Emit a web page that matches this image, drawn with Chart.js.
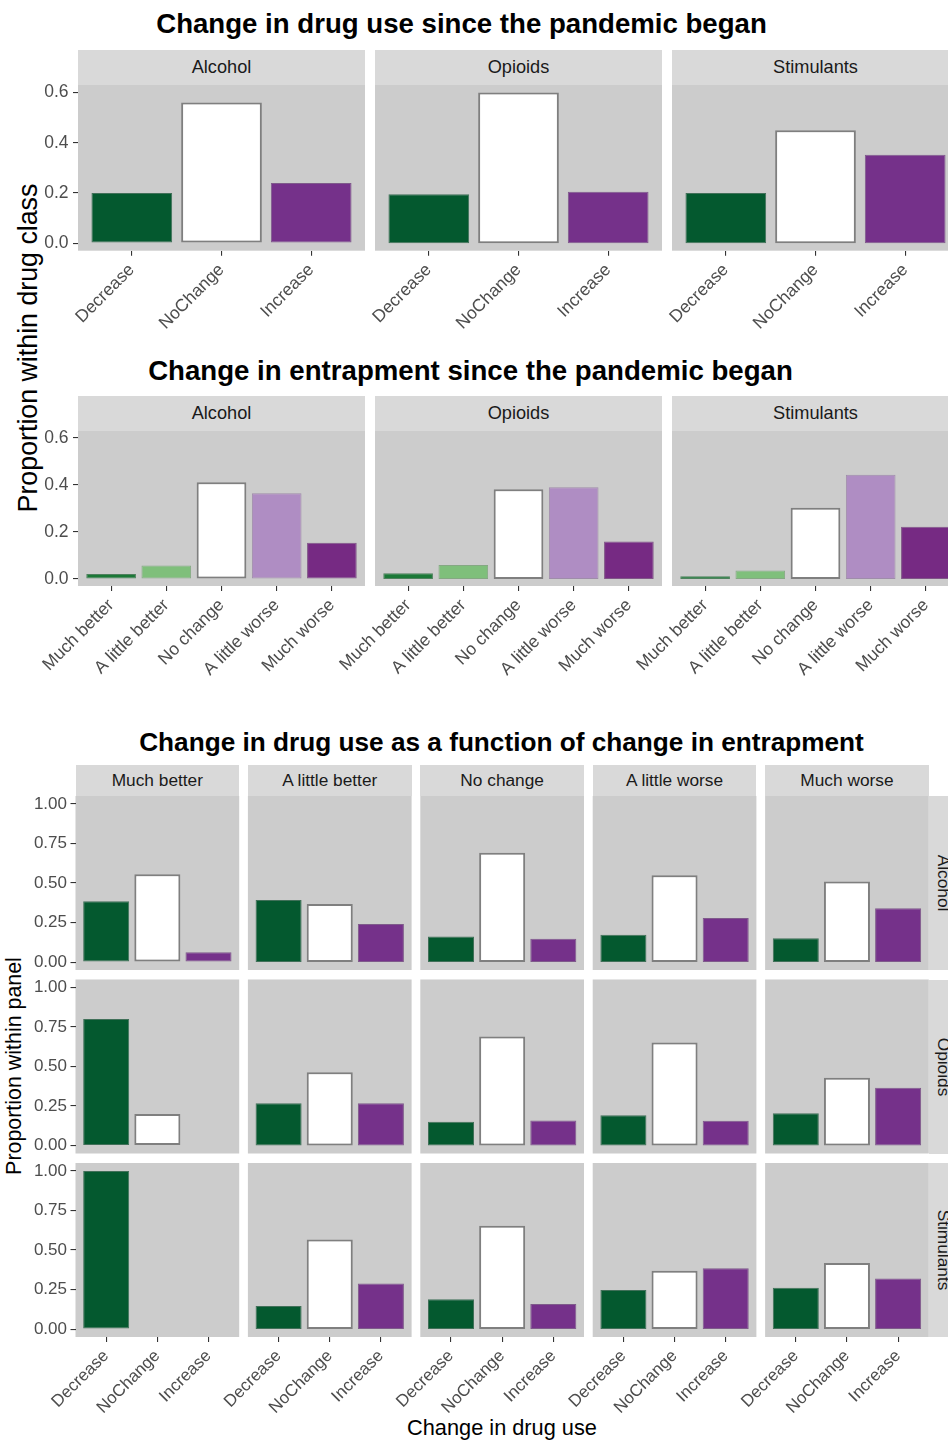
<!DOCTYPE html>
<html><head><meta charset="utf-8">
<script src="https://cdn.jsdelivr.net/npm/chart.js@4/dist/chart.umd.min.js"></script>
<style>
html,body{margin:0;padding:0;background:#fff;}
body{position:relative;width:948px;height:1441px;overflow:hidden;font-family:"Liberation Sans",Arial,Helvetica,sans-serif;}
.strip{position:absolute;background:#D9D9D9;color:#1A1A1A;display:flex;align-items:center;justify-content:center;white-space:nowrap;line-height:1;overflow:hidden;}
canvas{position:absolute;}
.txt{position:absolute;white-space:nowrap;line-height:1;color:#000;}
</style></head><body>
<script>
// ---------------- data ----------------
const drugClasses = ["Alcohol", "Opioids", "Stimulants"];
const useLevels = ["Decrease", "NoChange", "Increase"];
const entrapLevels = ["Much better", "A little better", "No change", "A little worse", "Much worse"];

// Change in drug use since the pandemic began (proportion within drug class)
const useAlcohol    = [0.200, 0.560, 0.240];
const useOpioids    = [0.195, 0.600, 0.205];
const useStimulants = [0.200, 0.450, 0.352];

// Change in entrapment since the pandemic began
const entrapAlcohol    = [0.021, 0.057, 0.412, 0.365, 0.154];
const entrapOpioids    = [0.024, 0.059, 0.382, 0.391, 0.160];
const entrapStimulants = [0.011, 0.036, 0.303, 0.444, 0.222];

// Change in drug use as a function of change in entrapment (rows: entrapment levels; values: Decrease, NoChange, Increase)
const alcoholByEntrap = [
  [0.384, 0.555, 0.062],
  [0.392, 0.368, 0.241],
  [0.161, 0.691, 0.148],
  [0.173, 0.549, 0.278],
  [0.150, 0.509, 0.341]
];
const opioidsByEntrap = [
  [0.800, 0.200, null],
  [0.268, 0.464, 0.268],
  [0.151, 0.690, 0.159],
  [0.192, 0.651, 0.157],
  [0.205, 0.429, 0.366]
];
const stimulantsByEntrap = [
  [1.000, null, null],
  [0.146, 0.566, 0.288],
  [0.188, 0.653, 0.159],
  [0.247, 0.369, 0.384],
  [0.262, 0.418, 0.320]
];

const yTicksTop = [0, 0.2, 0.4, 0.6];
const yTickLabelsTop = ["0.0", "0.2", "0.4", "0.6"];
const yTicksBottom = [0, 0.25, 0.5, 0.75, 1];
const yTickLabelsBottom = ["0.00", "0.25", "0.50", "0.75", "1.00"];

const useColors = ["#04592F", "#FFFFFF", "#75318A"];
const entrapColors = ["#1B7837", "#7FBF7B", "#FFFFFF", "#AF8DC3", "#762A83"];

const titleTop = "Change in drug use since the pandemic began";
const titleMid = "Change in entrapment since the pandemic began";
const titleBottom = "Change in drug use as a function of change in entrapment";
const yTitleTop = "Proportion within drug class";
const yTitleBottom = "Proportion within panel";
const xTitleBottom = "Change in drug use";

// ---------------- helpers ----------------
const FONT = '"Liberation Sans", Arial, Helvetica, sans-serif';
const mctx = document.createElement('canvas').getContext('2d');
function fitSize(text, weight, target) {
  mctx.font = weight + ' 100px ' + FONT;
  return target / mctx.measureText(text).width * 100;
}
function addText(text, o) {
  const d = document.createElement('div');
  d.className = 'txt';
  d.textContent = text;
  const fs = o.fit ? fitSize(text, o.weight || 'normal', o.fit) : o.size;
  d.style.fontSize = fs + 'px';
  d.style.fontWeight = o.weight || 'normal';
  d.style.left = o.cx + 'px';
  d.style.top = o.cy + 'px';
  d.style.transform = 'translate(-50%,-50%)' + (o.rotate ? ' rotate(' + o.rotate + 'deg)' : '');
  if (o.color) d.style.color = o.color;
  document.body.appendChild(d);
}
function addStrip(text, left, top, w, h, size, rotate) {
  const d = document.createElement('div');
  d.className = 'strip';
  d.style.left = left + 'px'; d.style.top = top + 'px';
  d.style.width = w + 'px'; d.style.height = h + 'px';
  document.body.appendChild(d);
  if (!rotate) {
    d.style.fontSize = size + 'px';
    d.textContent = text;
  } else {
    addText(text, {cx: rotate.cx, cy: top + h / 2, size: size, rotate: 90, color: '#1A1A1A'});
  }
}
function hexToRgb(h) { h = h.replace('#', ''); return [0, 2, 4].map(i => parseInt(h.substr(i, 2), 16)); }
function mix(a, b, t) { const x = hexToRgb(a), y = hexToRgb(b); return 'rgb(' + x.map((v, i) => Math.round(v * (1 - t) + y[i] * t)).join(',') + ')'; }

const bgPlugin = {
  id: 'panelBg',
  beforeDraw(chart) {
    const a = chart.chartArea, c = chart.ctx;
    c.save(); c.fillStyle = '#CCCCCC';
    c.fillRect(a.left, a.top, a.right - a.left, a.bottom - a.top);
    c.restore();
  }
};

function panel(o) {
  const padL = 80, padR = 6, padT = 12;
  const yAxisW = o.showY ? 46 : 0;
  const xAxisH = o.showX ? 105 : 0;
  const cx = Math.floor(o.left - padL), cy = Math.floor(o.top - padT);
  const innerL = o.left - cx, innerT = o.top - cy;
  const W = Math.ceil(innerL + o.width + padR);
  const H = Math.ceil(innerT + o.height + xAxisH + 2);
  const cv = document.createElement('canvas');
  cv.width = W; cv.height = H;
  cv.style.left = cx + 'px'; cv.style.top = cy + 'px';
  cv.style.width = W + 'px'; cv.style.height = H + 'px';
  document.body.appendChild(cv);
  const n = o.labels.length;
  const pts = [], bg = [], bc = [], bw = [];
  o.values.forEach((v, i) => {
    if (v === null || v === undefined) return;
    pts.push({x: i + 1, y: v});
    const c = o.colors[i];
    bg.push(c);
    const white = c.toUpperCase() === '#FFFFFF';
    bc.push(white ? '#7F7F7F' : mix(c, '#8C8C8C', 0.45));
    bw.push(white ? 2 : 1);
  });
  const tickGrid = {display: true, offset: false, drawOnChartArea: false, drawTicks: true, tickLength: 5, color: '#333333', lineWidth: 1.1};
  new Chart(cv, {
    type: 'bar',
    data: {datasets: [{data: pts, backgroundColor: bg, borderColor: bc, borderWidth: bw, borderSkipped: false,
      barPercentage: 0.9, categoryPercentage: 1.0}]},
    options: {
      responsive: false, animation: false, events: [], devicePixelRatio: 1,
      layout: {autoPadding: false, padding: {
        left: innerL - yAxisW, top: innerT,
        right: W - innerL - o.width, bottom: H - innerT - o.height - xAxisH}},
      plugins: {legend: {display: false}, tooltip: {enabled: false}},
      scales: {
        x: {
          type: 'linear', min: 0.4, max: n + 0.6, offset: false, display: o.showX,
          grid: tickGrid, border: {display: false},
          afterBuildTicks(s) { s.ticks = o.labels.map((l, i) => ({value: i + 1})); },
          afterFit(s) { s.height = xAxisH; s.paddingLeft = 0; s.paddingRight = 0; },
          ticks: {autoSkip: false, minRotation: 45, maxRotation: 45, padding: 4, color: '#4D4D4D',
            font: {family: FONT, size: o.tickFont}, callback: (v, i) => o.labels[i]}
        },
        y: {
          type: 'linear', min: o.yMin, max: o.yMax, offset: false, display: o.showY,
          grid: tickGrid, border: {display: false},
          afterBuildTicks(s) { s.ticks = o.yTicks.map(v => ({value: v})); },
          afterFit(s) { s.width = yAxisW; s.paddingTop = 0; s.paddingBottom = 0; },
          ticks: {autoSkip: false, padding: o.yPad, color: '#4D4D4D',
            font: {family: FONT, size: o.tickFont}, callback: (v, i) => o.yTickLabels[i]}
        }
      }
    },
    plugins: [bgPlugin]
  });
}

// ---------------- layout ----------------
const topLefts = [78, 375, 672], topW = 287;
const secA = {stripTop: 50, stripH: 35, top: 85, h: 165.7};
const secB = {stripTop: 396, stripH: 35, top: 431, h: 155};
const useData = [useAlcohol, useOpioids, useStimulants];
const entrapData = [entrapAlcohol, entrapOpioids, entrapStimulants];

// titles
addText(titleTop, {cx: 461.5, cy: 24, fit: 611, weight: 'bold'});
addText(titleMid, {cx: 470.5, cy: 371, fit: 645, weight: 'bold'});
addText(titleBottom, {cx: 501.5, cy: 742, fit: 725, weight: 'bold'});
addText(yTitleTop, {cx: 28, cy: 347.5, fit: 329, rotate: -90});
addText(yTitleBottom, {cx: 14.5, cy: 1066, fit: 218, rotate: -90});
addText(xTitleBottom, {cx: 502, cy: 1428, fit: 190});

// section A and B strips
drugClasses.forEach((d, i) => {
  addStrip(d, topLefts[i], secA.stripTop, topW, secA.stripH, 18.2);
  addStrip(d, topLefts[i], secB.stripTop, topW, secB.stripH, 18.2);
});

// section C geometry
const colLeft0 = 75.5, colPitch = 172.4, colW = 163.7;
const rowTop0 = 796, rowPitch = 183.5, rowH = 174;
const stripCTop = 765, stripCH = 31;
const byEntrap = [alcoholByEntrap, opioidsByEntrap, stimulantsByEntrap];
entrapLevels.forEach((e, j) => addStrip(e, colLeft0 + j * colPitch, stripCTop, colW, stripCH, 17.3));
const rowStripLeft = colLeft0 + 4 * colPitch + colW;
drugClasses.forEach((d, r) => addStrip(d, rowStripLeft, rowTop0 + r * rowPitch, 30, rowH, 17.3, {cx: 942.5}));

// charts A
drugClasses.forEach((d, i) => panel({
  left: topLefts[i], top: secA.top, width: topW, height: secA.h,
  labels: useLevels, values: useData[i], colors: useColors,
  yMin: -0.03, yMax: 0.63, yTicks: yTicksTop, yTickLabels: yTickLabelsTop,
  showY: i === 0, showX: true, tickFont: 17.5, yPad: 4.5
}));
// charts B
drugClasses.forEach((d, i) => panel({
  left: topLefts[i], top: secB.top, width: topW, height: secB.h,
  labels: entrapLevels, values: entrapData[i], colors: entrapColors,
  yMin: -0.03, yMax: 0.63, yTicks: yTicksTop, yTickLabels: yTickLabelsTop,
  showY: i === 0, showX: true, tickFont: 17.5, yPad: 4.5
}));
// charts C
drugClasses.forEach((d, r) => {
  entrapLevels.forEach((e, j) => panel({
    left: colLeft0 + j * colPitch, top: rowTop0 + r * rowPitch, width: colW, height: rowH,
    labels: useLevels, values: byEntrap[r][j], colors: useColors,
    yMin: -0.05, yMax: 1.05, yTicks: yTicksBottom, yTickLabels: yTickLabelsBottom,
    showY: j === 0, showX: r === 2, tickFont: 17, yPad: 3.5
  }));
});
</script>
</body></html>
